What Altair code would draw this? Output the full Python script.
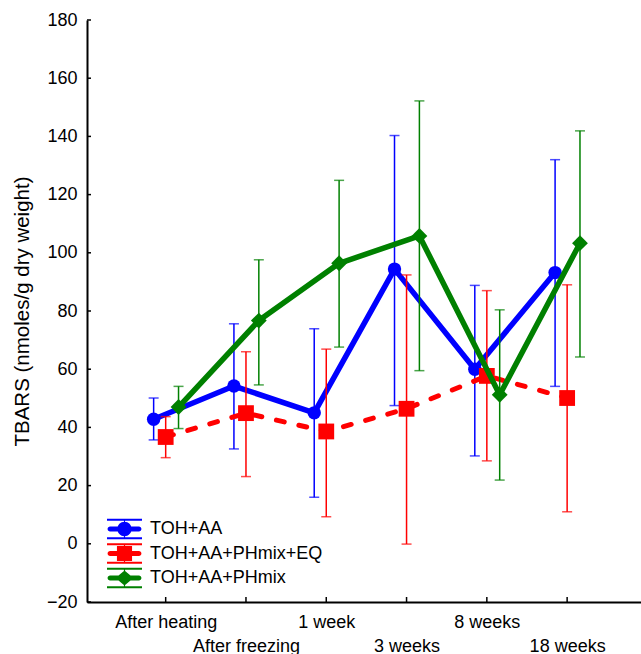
import altair as alt
import pandas as pd

categories = ["After heating", "After freezing", "1 week", "3 weeks", "8 weeks", "18 weeks"]
series_names = ["TOH+AA", "TOH+AA+PHmix+EQ", "TOH+AA+PHmix"]
series_colors = ["#0000ff", "#ff0000", "#008000"]

toh_aa_mean = [42.8, 54.2, 45.0, 94.4, 60.0, 93.2]
toh_aa_low = [35.7, 32.6, 16.0, 47.5, 30.2, 54.1]
toh_aa_high = [50.1, 75.6, 73.9, 140.3, 88.8, 132.0]

eq_mean = [36.7, 44.9, 38.6, 46.4, 57.7, 50.1]
eq_low = [29.6, 23.1, 9.3, -0.1, 28.5, 11.0]
eq_high = [43.7, 66.0, 66.9, 92.4, 87.0, 89.0]

ph_mean = [47.0, 76.7, 96.4, 105.8, 51.2, 103.3]
ph_low = [39.6, 54.6, 67.6, 59.5, 21.9, 64.2]
ph_high = [54.1, 97.6, 124.9, 152.2, 80.4, 141.9]

y_ticks = [-20, 0, 20, 40, 60, 80, 100, 120, 140, 160, 180]

means = [toh_aa_mean, eq_mean, ph_mean]
lows = [toh_aa_low, eq_low, ph_low]
highs = [toh_aa_high, eq_high, ph_high]
dodge = [-0.15, 0.0, 0.16]

rows = []
for s, name in enumerate(series_names):
    for i, cat in enumerate(categories):
        rows.append(dict(series=name, cat=cat, pos=i + 1,
                         mean=means[s][i], low=lows[s][i], high=highs[s][i]))
df = pd.DataFrame(rows)

FONT = "Liberation Sans"
W, H = 554, 582

xscale = alt.Scale(domain=[0.02, 6.92], nice=False, zero=False)
yscale = alt.Scale(domain=[-20, 180], nice=False, zero=False)

lbl_arr = "[" + ",".join("'" + c + "'" for c in categories) + "]"
label_expr = f"datum.value % 2 == 0 ? ['', {lbl_arr}[datum.value-1]] : {lbl_arr}[datum.value-1]"

x_axis = alt.Axis(values=list(range(1, 7)), labelExpr=label_expr, ticks=False,
                  grid=False, domainColor="black", domainWidth=2,
                  labelFont=FONT, labelFontSize=18, labelColor="black",
                  labelPadding=11, labelLineHeight=24, labelAngle=0,
                  labelAlign="center", labelBaseline="top", title="",
                  labelOverlap=False)
y_axis = alt.Axis(values=y_ticks, ticks=False, grid=False, domainColor="black",
                  domainWidth=2, labelFont=FONT, labelFontSize=18,
                  labelColor="black", labelPadding=10,
                  title="TBARS (nmoles/g dry weight)", titleFont=FONT,
                  titleFontSize=20.5, titleFontWeight="normal", titleColor="black",
                  titlePadding=14)


def Xq(field):
    return alt.X(field, scale=xscale, axis=x_axis)


def Yq(field):
    return alt.Y(field, scale=yscale, axis=y_axis)


base = alt.Chart(df)

# inward axis ticks
ytick_df = pd.DataFrame({"v": y_ticks})
ytick_layer = alt.Chart(ytick_df).mark_rule(color="black", strokeWidth=1.5).encode(
    y=Yq("v:Q"), x=alt.value(0), x2=alt.value(4),
)
xtick_df = pd.DataFrame({"p": list(range(1, 7))})
xtick_layer = alt.Chart(xtick_df).mark_rule(color="black", strokeWidth=1.5).encode(
    x=Xq("p:Q"), y=alt.value(H - 5), y2=alt.value(H),
)

layers = [ytick_layer, xtick_layer]
shapes = ["circle", "square", "diamond"]
sizes = [180, 250, 250]
for s, name in enumerate(series_names):
    col = series_colors[s]
    b = base.transform_filter(alt.datum.series == name).transform_calculate(
        xpos=f"datum.pos + ({dodge[s]})")
    err = b.mark_rule(color=col, strokeWidth=1.5).encode(
        x=Xq("xpos:Q"), y=Yq("low:Q"), y2="high:Q")
    cap_lo = b.mark_tick(color=col, thickness=1.5, size=10, orient="horizontal").encode(
        x=Xq("xpos:Q"), y=Yq("low:Q"))
    cap_hi = b.mark_tick(color=col, thickness=1.5, size=10, orient="horizontal").encode(
        x=Xq("xpos:Q"), y=Yq("high:Q"))
    if s == 1:
        line = b.mark_line(color=col, strokeWidth=5, strokeDash=[8, 15], strokeCap="round")
    else:
        line = b.mark_line(color=col, strokeWidth=5.5, strokeJoin="round")
    line = line.encode(x=Xq("xpos:Q"), y=Yq("mean:Q"), order="pos:Q")
    pts = b.mark_point(filled=True, shape=shapes[s], size=sizes[s], opacity=1,
                       color=col).encode(x=Xq("xpos:Q"), y=Yq("mean:Q"))
    layers += [err, cap_lo, cap_hi, line, pts]

# legend carrier (drawn off-canvas, clipped); symbol unit = 12 px
cap_top = "M-1.46,-0.85H1.46V-0.69H-1.46Z"
cap_bot = "M-1.46,0.69H1.46V0.85H-1.46Z"
stem = "M-0.05,-0.77H0.05V0.77H-0.05Z"
bar = "M-1.2,-0.21H1.2A0.21,0.21,0,0,1,1.2,0.21H-1.2A0.21,0.21,0,0,1,-1.2,-0.21Z"
frame = cap_top + cap_bot + stem + bar
circle_p = "M0.6,0A0.6,0.6,0,1,1,-0.6,0A0.6,0.6,0,1,1,0.6,0Z"
square_p = "M-0.63,-0.63H0.63V0.63H-0.63Z"
diamond_p = "M0,-0.62L0.75,0L0,0.62L-0.75,0Z"
legend_paths = [frame + circle_p, frame + square_p, frame + diamond_p]

leg = alt.Legend(orient="none", legendX=25.5, legendY=497, title=None,
                 symbolSize=576, symbolStrokeWidth=0, symbolOpacity=1,
                 labelFont=FONT, labelFontSize=18, labelColor="black",
                 labelOffset=13.5, rowPadding=1.5, padding=0, labelLimit=400)
legend_df = pd.DataFrame({"series": series_names})
legend_layer = alt.Chart(legend_df).mark_point(filled=True, opacity=1, clip=True).encode(
    x=alt.value(-300), y=alt.value(-300),
    color=alt.Color("series:N", scale=alt.Scale(domain=series_names, range=series_colors),
                    legend=leg),
    shape=alt.Shape("series:N", scale=alt.Scale(domain=series_names, range=legend_paths),
                    legend=leg),
)
layers.append(legend_layer)

chart = alt.layer(*layers).properties(
    width=W, height=H,
    autosize=alt.AutoSizeParams(type="none"),
    padding={"left": 87, "top": 20, "right": 0, "bottom": 52},
    background="white",
).configure_view(stroke=None)

chart.save("out.html", embed_options={"renderer": "svg", "actions": False})
